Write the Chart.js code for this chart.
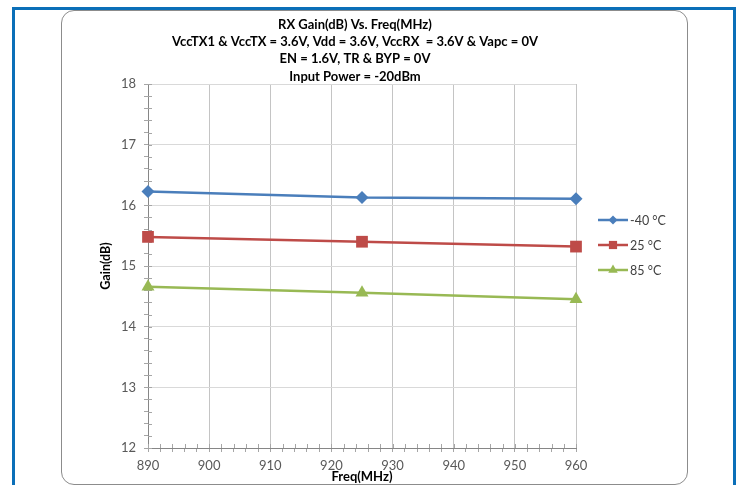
<!DOCTYPE html>
<html>
<head>
<meta charset="utf-8">
<script src="https://cdn.jsdelivr.net/npm/chart.js@4.4.0/dist/chart.umd.min.js"></script>
<style>
  html, body { margin: 0; padding: 0; background: #fff; }
  #page { position: relative; width: 746px; height: 485px; overflow: hidden; }
  #frame { position: absolute; left: 12px; top: 7px; width: 718px; height: 500px;
           border: 3px solid #0b6fb8; border-bottom: none; }
  #card { position: absolute; left: 61px; top: 10px; width: 625px; height: 473px;
          border: 1px solid #8c8c8c; border-radius: 13px; background: #fff; }
  canvas { position: absolute; left: 0; top: 0; }
</style>
</head>
<body>
<div id="page">
  <div id="frame"></div>
  <div id="card"></div>
  <canvas id="gainChart" width="746" height="485"></canvas>
</div>
<script>
// data
const freqs = [890, 925, 960]
const gainM40 = [16.23, 16.13, 16.11]
const gain25 = [15.48, 15.40, 15.32]
const gain85 = [14.66, 14.56, 14.45]
const seriesNames = ["-40 °C", "25 °C", "85 °C"]
const titleLines = [
    "RX Gain(dB) Vs. Freq(MHz)",
    "VccTX1 & VccTX = 3.6V, Vdd = 3.6V, VccRX  = 3.6V & Vapc = 0V",
    "EN = 1.6V, TR & BYP = 0V",
    "Input Power = -20dBm"
]

const blue = "#4a7ebb"
const red = "#be4b48"
const green = "#98b954"
const fontName = "Lato"

function points(ys) {
    return freqs.map((f, i) => ({ x: f, y: ys[i] }))
}

const datasets = [
    { label: seriesNames[0], data: points(gainM40), borderColor: blue, backgroundColor: blue,
      pointStyle: "rectRot", pointRadius: 6.5, legendRadius: 4.5 },
    { label: seriesNames[1], data: points(gain25), borderColor: red, backgroundColor: red,
      pointStyle: "rect", pointRadius: 8.3, legendRadius: 5.8 },
    { label: seriesNames[2], data: points(gain85), borderColor: green, backgroundColor: green,
      pointStyle: "triangle", pointRadius: 7.5, legendRadius: 5.5 }
]
datasets.forEach(d => {
    d.borderWidth = 2.5
    d.pointBorderWidth = 0
    d.tension = 0
    d.clip = false
})

// titles drawn on top of the chart
const titlePlugin = {
    id: "titles",
    afterDraw(chart) {
        const ctx = chart.ctx
        ctx.save()
        ctx.fillStyle = "#000"
        ctx.font = "bold 13px " + fontName
        ctx.textAlign = "center"
        ctx.textBaseline = "alphabetic"
        titleLines.forEach((t, i) => ctx.fillText(t, 355, 28.5 + i * 17.4))
        ctx.restore()
    }
}

// small tick marks crossing into the plot, like Excel
const innerTicks = {
    id: "innerTicks",
    beforeDatasetsDraw(chart) {
        const ctx = chart.ctx
        const xs = chart.scales.x
        const ys = chart.scales.y
        ctx.save()
        ctx.strokeStyle = "#a6a6a6"
        ctx.lineWidth = 1
        ctx.beginPath()
        xs.ticks.forEach(t => {
            const px = Math.round(xs.getPixelForValue(t.value)) + 0.5
            ctx.moveTo(px, ys.bottom)
            ctx.lineTo(px, ys.bottom - 4)
        })
        ys.ticks.forEach(t => {
            const py = Math.round(ys.getPixelForValue(t.value)) + 0.5
            ctx.moveTo(xs.left, py)
            ctx.lineTo(xs.left + 4, py)
        })
        ctx.stroke()
        ctx.restore()
    }
}

const legendPlugin = {
    id: "sideLegend",
    afterDraw(chart) {
        const ctx = chart.ctx
        ctx.save()
        chart.data.datasets.forEach((d, i) => {
            const y = 220 + i * 25
            ctx.strokeStyle = d.borderColor
            ctx.lineWidth = 2.5
            ctx.beginPath()
            ctx.moveTo(598, y)
            ctx.lineTo(628, y)
            ctx.stroke()
            ctx.fillStyle = d.backgroundColor
            Chart.helpers.drawPoint(ctx, { pointStyle: d.pointStyle, radius: d.legendRadius, rotation: 0, borderWidth: 0 }, 613, y)
            ctx.fillStyle = "#404040"
            ctx.font = "12.5px " + fontName
            ctx.textAlign = "left"
            ctx.textBaseline = "middle"
            ctx.fillText(d.label, 630, y + 1)
        })
        ctx.restore()
    }
}

new Chart(document.getElementById("gainChart"), {
    type: "line",
    data: { datasets: datasets },
    plugins: [titlePlugin, innerTicks, legendPlugin],
    options: {
        responsive: false,
        devicePixelRatio: 1,
        animation: false,
        layout: { padding: { left: 94, top: 84, right: 170, bottom: 0 } },
        plugins: { legend: { display: false }, title: { display: false }, tooltip: { enabled: false } },
        scales: {
            x: {
                type: "linear",
                min: 890, max: 960,
                afterFit(scale) { scale.height = 37 },
                border: { color: "#868686", width: 1 },
                grid: {
                    color: c => (c.tick && c.tick.value % 10 === 0 && c.tick.value !== 890) ? "#c4c4c4" : "transparent",
                    tickColor: "#a6a6a6",
                    tickLength: 4
                },
                ticks: {
                    stepSize: 2,
                    autoSkip: false,
                    maxRotation: 0,
                    padding: 6,
                    color: "#595959",
                    font: { family: fontName, size: 13 },
                    callback: v => v % 10 === 0 ? v : ""
                },
                title: {
                    display: true, text: "Freq(MHz)", color: "#000", padding: 0,
                    font: { family: fontName, size: 13, weight: "bold" }
                }
            },
            y: {
                min: 12, max: 18,
                afterFit(scale) { scale.width = 54 },
                border: { color: "#868686", width: 1 },
                grid: {
                    color: c => (c.tick && Number.isInteger(Math.round(c.tick.value * 1000) / 1000) && c.tick.value !== 12) ? "#d9d9d9" : "transparent",
                    tickColor: "#a6a6a6",
                    tickLength: 4
                },
                ticks: {
                    stepSize: 0.2,
                    autoSkip: false,
                    padding: 8,
                    color: "#595959",
                    font: { family: fontName, size: 13 },
                    callback: v => Math.abs(v - Math.round(v)) < 1e-6 ? Math.round(v) : ""
                },
                title: {
                    display: true, text: "Gain(dB)", color: "#000", padding: 4,
                    font: { family: fontName, size: 12.5, weight: "bold" }
                }
            }
        }
    }
})
</script>
</body>
</html>
